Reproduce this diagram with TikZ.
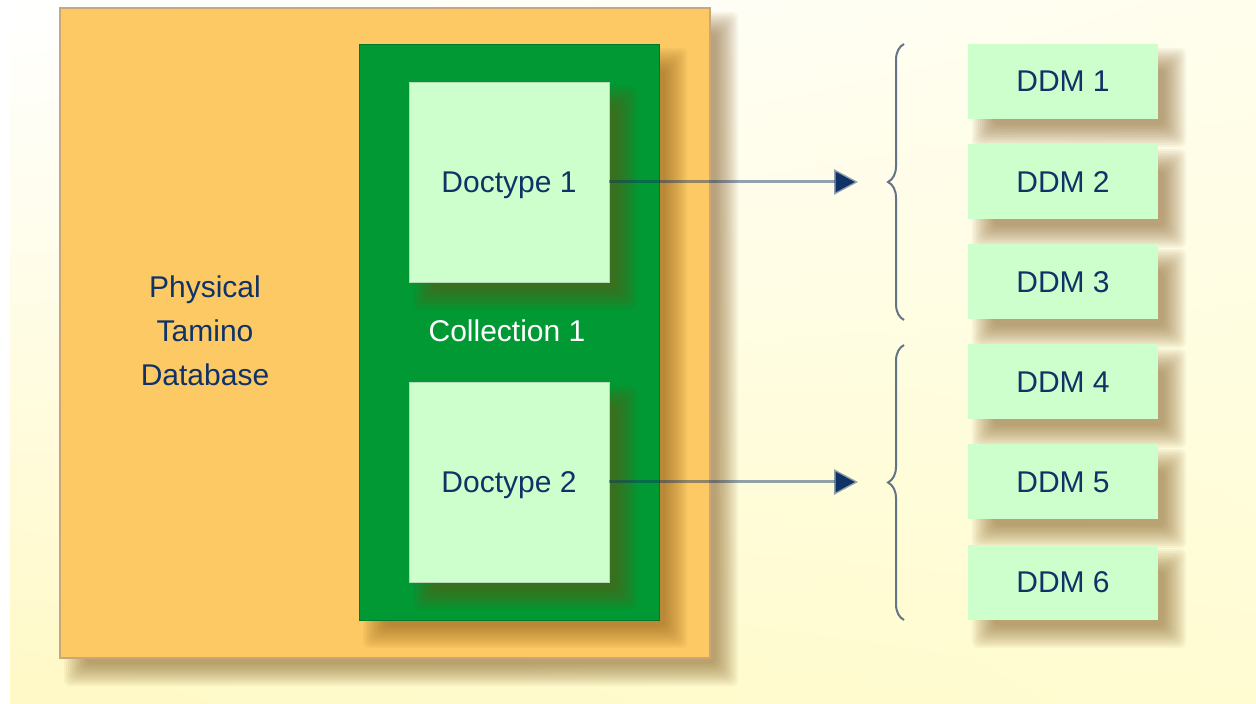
\documentclass[tikz,border=0pt]{standalone}
\usepackage{fontspec}
\setmainfont{Liberation Sans}
\usetikzlibrary{arrows.meta,decorations.pathreplacing,shadings}
\definecolor{bgyel}{HTML}{FFFCD2}
\definecolor{bgyeldeep}{HTML}{FFF9C6}
\definecolor{orangebox}{HTML}{FDC965}
\definecolor{orangeedge}{HTML}{C9A77A}
\definecolor{greenbox}{HTML}{009933}
\definecolor{lightgreen}{HTML}{CCFFCC}
\definecolor{navy}{HTML}{0F3366}
\definecolor{shadowbrown}{HTML}{7A4E12}
\newcommand\softshade[4]{%
  \foreach \k in {0,...,11}{%
    \pgfmathsetmacro\e{12-2*\k}%
    \fill[shadowbrown, opacity=0.055, rounded corners=3pt]
      ({#1+16-\e},{#2+16-\e}) rectangle ({#3+16+\e},{#4+16+\e});
  }%
}
\newcommand\lowered[1]{\raisebox{-1.5pt}[\height][\depth]{#1}}
\tikzset{
  outerbox/.style={rectangle, inner sep=0pt, fill=orangebox, draw=orangeedge, line width=0.6pt,
    minimum width=325pt, minimum height=325pt},
  collbox/.style={rectangle, inner sep=0pt, fill=greenbox, draw=greenbox!80!black, line width=0.4pt,
    minimum width=150pt, minimum height=288pt},
  docbox/.style={rectangle, inner sep=0pt, fill=lightgreen, draw=lightgreen!70!gray, line width=0.4pt,
    minimum width=100pt, minimum height=100pt, text=navy, font=\fontsize{15pt}{18pt}\selectfont},
  ddmbox/.style={rectangle, inner sep=0pt, fill=lightgreen,
    minimum width=95pt, minimum height=37.5pt, text=navy, font=\fontsize{15pt}{18pt}\selectfont},
  lbl/.style={text=navy, font=\fontsize{15pt}{18pt}\selectfont, align=center, inner sep=0pt},
  flow/.style={draw=navy, draw opacity=0.45, line width=1.5pt,
    -{Triangle[length=12pt,width=12.5pt,fill=navy,color=navy]}},
  bracket/.style={draw=navy!60!gray, draw opacity=0.8, line width=1pt,
    decorate, decoration={brace, amplitude=8pt, aspect=0.5}}
}
\begin{document}
\begin{tikzpicture}[x=0.5pt,y=-0.5pt]
  \useasboundingbox (0,0) rectangle (1256,704);
  \fill[white] (0,0) rectangle (1256,704);
  \shade[upper left=white, upper right=bgyel!40!white, lower left=bgyeldeep, lower right=bgyel]
    (10,0) rectangle (1256,704);

  \softshade{60}{8}{710}{658}
  \node[outerbox] (db) at (385,333) {};
  \node[lbl, font=\fontsize{15pt}{22pt}\selectfont] (dbl) at (205,331) {Physical\\Tamino\\Database};

  \softshade{359}{44}{659}{620}
  \node[collbox] (coll) at (509,332) {};
  \node[lbl, text=white] (colll) at (507,331) {Collection 1};

  \softshade{409}{82}{609}{282}
  \node[docbox] (d1) at (509,182) {\lowered{Doctype 1}};
  \softshade{409}{382}{609}{582}
  \node[docbox] (d2) at (509,482) {\lowered{Doctype 2}};

  \coordinate (t1) at (858,182);
  \coordinate (t2) at (858,482);
  \draw[flow] (d1.east) -- (t1);
  \draw[flow] (d2.east) -- (t2);

  \coordinate (b1s) at (904,320);
  \coordinate (b1e) at (904,44);
  \coordinate (b2s) at (904,620);
  \coordinate (b2e) at (904,345);
  \draw[bracket] (b1s) -- (b1e);
  \draw[bracket] (b2s) -- (b2e);

  \foreach \yy in {44,145,245,345,445,545}{\softshade{968}{\yy}{1158}{\yy+75}}
  \node[ddmbox] (m1) at (1063,81.5) {DDM 1};
  \node[ddmbox] (m2) at (1063,182) {DDM 2};
  \node[ddmbox] (m3) at (1063,282) {DDM 3};
  \node[ddmbox] (m4) at (1063,382) {DDM 4};
  \node[ddmbox] (m5) at (1063,482) {DDM 5};
  \node[ddmbox] (m6) at (1063,582) {DDM 6};
\end{tikzpicture}
\end{document}
